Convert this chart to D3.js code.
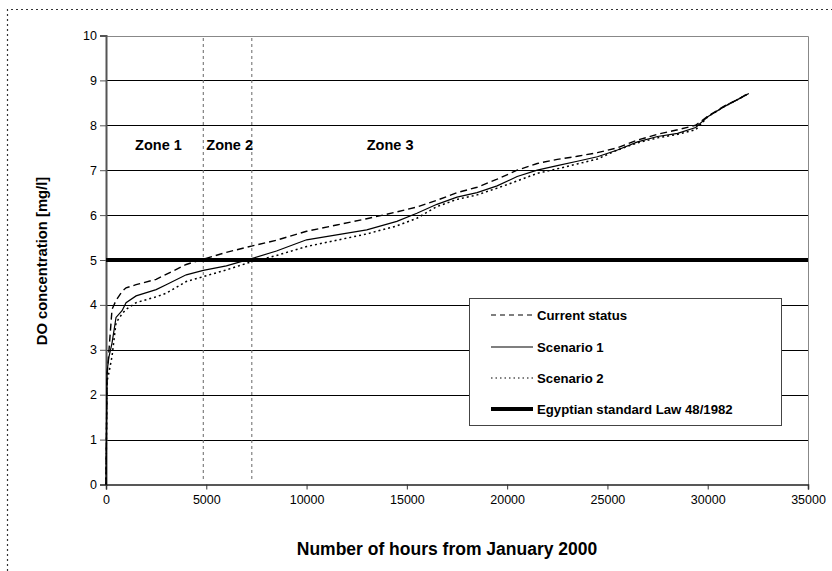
<!DOCTYPE html>
<html>
<head>
<meta charset="utf-8">
<script src="https://cdn.jsdelivr.net/npm/d3@7/dist/d3.min.js"></script>
<style>
  body { margin: 0; background: #fff; }
  svg { display: block; font-family: "Liberation Sans", Arial, sans-serif; }
</style>
</head>
<body>
<svg id="chart" width="832" height="571"></svg>
<script>
// Hours from January 2000 (duration-curve abscissa)
const hours = [0, 50, 150, 300, 500, 800, 1000, 1500, 2500, 3000, 4000, 4850, 6000, 7250, 8500,
  10000, 11500, 13000, 14500, 15500, 16500, 17500, 18500, 19500, 20500, 21500, 22500, 23500,
  24500, 25500, 26500, 27500, 28500, 29400, 30000, 30800, 31600, 32050];

// DO concentration [mg/l] for each case
const currentStatus = [0, 2.4, 3.0, 3.9, 4.1, 4.3, 4.38, 4.45, 4.57, 4.68, 4.9, 5.02, 5.17, 5.31, 5.44,
  5.64, 5.78, 5.92, 6.07, 6.18, 6.33, 6.5, 6.62, 6.8, 7.0, 7.15, 7.24, 7.31,
  7.39, 7.5, 7.67, 7.8, 7.9, 8.0, 8.2, 8.42, 8.6, 8.72];
const scenario1 = [0, 2.5, 2.85, 3.15, 3.72, 3.87, 4.05, 4.2, 4.34, 4.45, 4.67, 4.77, 4.87, 5.03, 5.2,
  5.45, 5.56, 5.67, 5.86, 6.04, 6.24, 6.4, 6.5, 6.65, 6.86, 7.0, 7.1, 7.2,
  7.3, 7.45, 7.63, 7.75, 7.82, 7.95, 8.19, 8.41, 8.6, 8.71];
const scenario2 = [0, 2.3, 2.5, 2.85, 3.6, 3.8, 3.9, 4.05, 4.18, 4.26, 4.52, 4.63, 4.78, 4.96, 5.1,
  5.3, 5.44, 5.58, 5.76, 5.93, 6.19, 6.35, 6.45, 6.6, 6.76, 6.93, 7.03, 7.14,
  7.25, 7.45, 7.61, 7.72, 7.8, 7.9, 8.19, 8.41, 8.6, 8.71];

const standardValue = 5;              // Egyptian standard Law 48/1982
const zoneBounds = [4850, 7270];      // limits between zones
const zoneLabels = ["Zone 1", "Zone 2", "Zone 3"];
const zoneLabelHours = [1450, 5000, 13000];
const xTicks = [0, 5000, 10000, 15000, 20000, 25000, 30000, 35000];
const yTicks = [0, 1, 2, 3, 4, 5, 6, 7, 8, 9, 10];
const seriesNames = ["Current status", "Scenario 1", "Scenario 2", "Egyptian standard Law 48/1982"];

const svg = d3.select("#chart");
const plotLeft = 106, plotRight = 808, plotTop = 35.5, plotBottom = 484.5;

const x = d3.scaleLinear().domain([0, 35000]).range([plotLeft, plotRight]);
const y = d3.scaleLinear().domain([0, 10]).range([plotBottom, plotTop]);

// outer dotted frame
svg.append("path")
  .attr("d", `M7.5,571 L7.5,9.5 L832,9.5`)
  .attr("fill", "none").attr("stroke", "#333").attr("stroke-width", 1.2)
  .attr("stroke-dasharray", "2,3");

// horizontal gridlines
svg.append("g").selectAll("line").data(yTicks.filter(d => d > 0 && d < 10)).join("line")
  .attr("x1", plotLeft).attr("x2", plotRight)
  .attr("y1", d => Math.round(y(d)) + 0.5).attr("y2", d => Math.round(y(d)) + 0.5)
  .attr("stroke", "#000").attr("stroke-width", 1);

// plot frame: top and right edges
svg.append("path")
  .attr("d", `M${plotLeft},${Math.round(plotTop) + 0.5} L${plotRight + 0.5},${Math.round(plotTop) + 0.5} L${plotRight + 0.5},${plotBottom}`)
  .attr("fill", "none").attr("stroke", "#888").attr("stroke-width", 1);

// zone divider lines
svg.append("g").selectAll("line").data(zoneBounds).join("line")
  .attr("x1", d => x(d)).attr("x2", d => x(d))
  .attr("y1", 38).attr("y2", 480)
  .attr("stroke", "#666").attr("stroke-width", 1).attr("stroke-dasharray", "3,3");

// axes
const yAxis = d3.axisLeft(y).tickValues(yTicks).tickFormat(d3.format("d")).tickSizeOuter(0).tickSize(6).tickPadding(3);
const gy = svg.append("g").attr("transform", `translate(${plotLeft},0)`).call(yAxis);
gy.select(".domain").attr("stroke", "#555").attr("stroke-width", 2);
gy.selectAll(".tick line").attr("stroke", "#555");
gy.selectAll("text").attr("font-size", 12.5).attr("fill", "#000").attr("font-family", "Liberation Sans, Arial, sans-serif");

const xAxis = d3.axisBottom(x).tickValues(xTicks).tickFormat(d3.format("d")).tickSizeOuter(0).tickSize(5).tickPadding(6);
const gx = svg.append("g").attr("transform", `translate(0,${plotBottom})`).call(xAxis);
gx.select(".domain").attr("stroke", "#222").attr("stroke-width", 1.5);
gx.selectAll(".tick line").attr("stroke", "#333");
gx.selectAll("text").attr("font-size", 12.5).attr("fill", "#000").attr("font-family", "Liberation Sans, Arial, sans-serif");

// standard threshold line
svg.append("line")
  .attr("x1", plotLeft).attr("x2", plotRight)
  .attr("y1", y(standardValue)).attr("y2", y(standardValue))
  .attr("stroke", "#000").attr("stroke-width", 4);

// series lines
const line = d3.line().x((d, i) => x(hours[i])).y(d => y(d));
const series = [
  { name: seriesNames[0], values: currentStatus, dash: "7,4", width: 1.4 },
  { name: seriesNames[1], values: scenario1, dash: null, width: 1.2 },
  { name: seriesNames[2], values: scenario2, dash: "2,3", width: 1.5 }
];
svg.append("g").selectAll("path").data(series).join("path")
  .attr("d", d => line(d.values))
  .attr("fill", "none").attr("stroke", "#000")
  .attr("stroke-width", d => d.width)
  .attr("stroke-dasharray", d => d.dash);

// zone labels
svg.append("g").selectAll("text").data(zoneLabels).join("text")
  .attr("x", (d, i) => x(zoneLabelHours[i]))
  .attr("y", 150)
  .attr("font-size", 14.5).attr("font-weight", "bold")
  .text(d => d);

// legend
const lg = svg.append("g");
lg.append("rect").attr("x", 469.5).attr("y", 298.5).attr("width", 312).attr("height", 127)
  .attr("fill", "#fff").attr("stroke", "#444").attr("stroke-width", 1);
const legendItems = [
  { dash: "5,4", width: 1.2 },
  { dash: null, width: 1.1 },
  { dash: "1.5,3", width: 1.2 },
  { dash: null, width: 4 }
];
const rowY = [315, 347, 378, 409];
legendItems.forEach((it, i) => {
  lg.append("line").attr("x1", 491).attr("x2", 533).attr("y1", rowY[i]).attr("y2", rowY[i])
    .attr("stroke", "#000").attr("stroke-width", it.width).attr("stroke-dasharray", it.dash);
  lg.append("text").attr("x", 537).attr("y", rowY[i] + 5)
    .attr("font-size", 13.2).attr("font-weight", "bold").text(seriesNames[i]);
});

// axis titles
svg.append("text")
  .attr("transform", `translate(47,261) rotate(-90)`)
  .attr("text-anchor", "middle").attr("font-size", 14.8).attr("font-weight", "bold")
  .text("DO concentration [mg/l]");
svg.append("text")
  .attr("x", 447).attr("y", 555)
  .attr("text-anchor", "middle").attr("font-size", 17.5).attr("font-weight", "bold")
  .text("Number of hours from January 2000");
</script>
</body>
</html>
